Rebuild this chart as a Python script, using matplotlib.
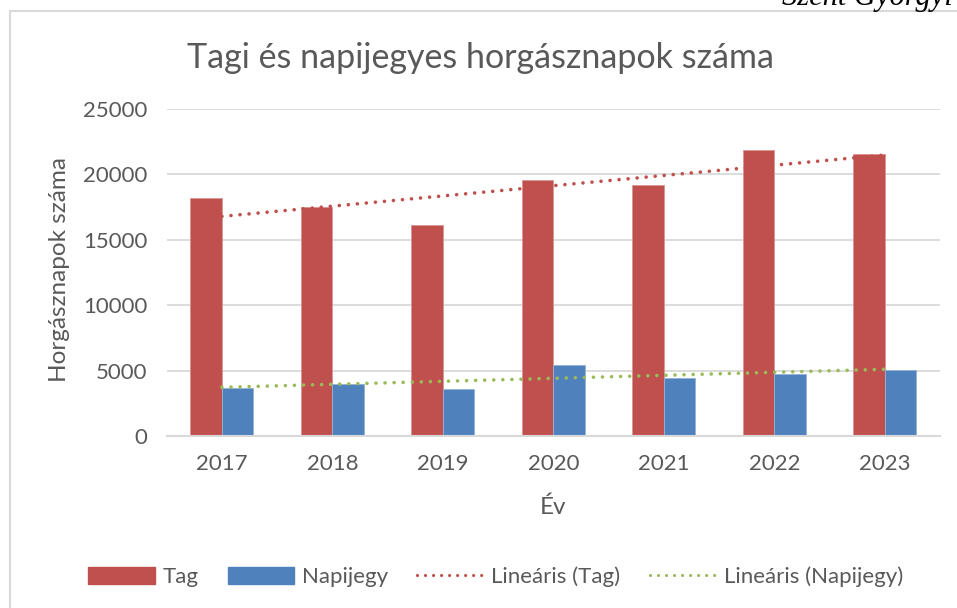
import matplotlib
matplotlib.use("Agg")
import matplotlib.pyplot as plt
from matplotlib.lines import Line2D
import numpy as np

# data
years = ["2017", "2018", "2019", "2020", "2021", "2022", "2023"]
tag = [18160, 17480, 16170, 19560, 19200, 21860, 21530]
napijegy = [3650, 4010, 3570, 5460, 4440, 4720, 5030]
y_ticks = [0, 5000, 10000, 15000, 20000, 25000]

RED = "#C0504D"
BLUE = "#4F81BD"
GREEN = "#9BBB59"
GRID = "#D9D9D9"
TXT = "#595959"
DOTS = (0, (0.01, 2.5))

plt.rcParams["font.family"] = ["Lato", "DejaVu Sans"]

fig = plt.figure(figsize=(9.57, 6.08), dpi=100)
ax = fig.add_axes([0.1742, 0.2829, 0.8080, 0.5378])

x = np.arange(len(years))
w = 0.285
ax.bar(x - w / 2, tag, w, color=RED, edgecolor="#D99694", linewidth=0.6, label="Tag", zorder=2)
ax.bar(x + w / 2, napijegy, w, color=BLUE, edgecolor="#95B3D7", linewidth=0.6, label="Napijegy", zorder=2)

# linear trendlines like Excel
for vals, col, name in [(tag, RED, "Lineáris (Tag)"), (napijegy, GREEN, "Lineáris (Napijegy)")]:
    k, b = np.polyfit(x + 1, vals, 1)
    ax.plot(x, k * (x + 1) + b, linestyle=DOTS, dash_capstyle="round",
            color=col, linewidth=2.6, zorder=3, label=name)

ax.set_xlim(-0.5, len(years) - 0.5)
ax.set_ylim(0, 25000)
ax.set_yticks(y_ticks)
ax.set_xticks(x)
ax.set_xticklabels(years)
ax.yaxis.grid(True, color=GRID, linewidth=1.3, zorder=0)
ax.set_axisbelow(True)
for s in ["top", "right", "left"]:
    ax.spines[s].set_visible(False)
ax.spines["bottom"].set_color(GRID)
ax.spines["bottom"].set_linewidth(1.5)
ax.tick_params(axis="both", length=0, labelsize=16, colors=TXT)
ax.tick_params(axis="x", pad=13)
ax.tick_params(axis="y", pad=14)

# axis titles placed where the reference has them
fig.text(60 / 957, 1 - 270 / 608, "Horgásznapok száma", rotation=90, ha="center", va="center",
         fontsize=17.5, color=TXT)
fig.text(553 / 957, 1 - 507 / 608, "Év", ha="center", va="center", fontsize=17.5, color=TXT)
fig.text(0.502, 0.905, "Tagi és napijegyes horgásznapok száma", ha="center", va="center",
         fontsize=24.5, color=TXT)

handles = [
    plt.Rectangle((0, 0), 1, 1, color=RED),
    plt.Rectangle((0, 0), 1, 1, color=BLUE),
    Line2D([], [], color=RED, linestyle=DOTS, linewidth=2.3, dash_capstyle="round"),
    Line2D([], [], color=GREEN, linestyle=DOTS, linewidth=2.3, dash_capstyle="round"),
]
fig.legend(handles, ["Tag", "Napijegy", "Lineáris (Tag)", "Lineáris (Napijegy)"],
           loc="center", bbox_to_anchor=(0.518, 0.051), ncol=4, frameon=False,
           fontsize=16, labelcolor=TXT, handlelength=3.0, handleheight=0.75,
           columnspacing=1.3, handletextpad=0.35)

# chart frame (only top and left edges visible in the crop)
fig.add_artist(Line2D([10 / 957, 1], [1 - 11 / 608, 1 - 11 / 608], color=GRID, linewidth=1.5))
fig.add_artist(Line2D([10 / 957, 10 / 957], [0, 1 - 11 / 608], color=GRID, linewidth=1.5))

# document text cut off at the top of the screenshot
fig.text(782 / 957, 1 - 5 / 608, "Szent Györgyi F", fontsize=22, family="Liberation Serif",
         style="italic", color="black", va="baseline", ha="left")

fig.savefig("out.png", dpi=100)
